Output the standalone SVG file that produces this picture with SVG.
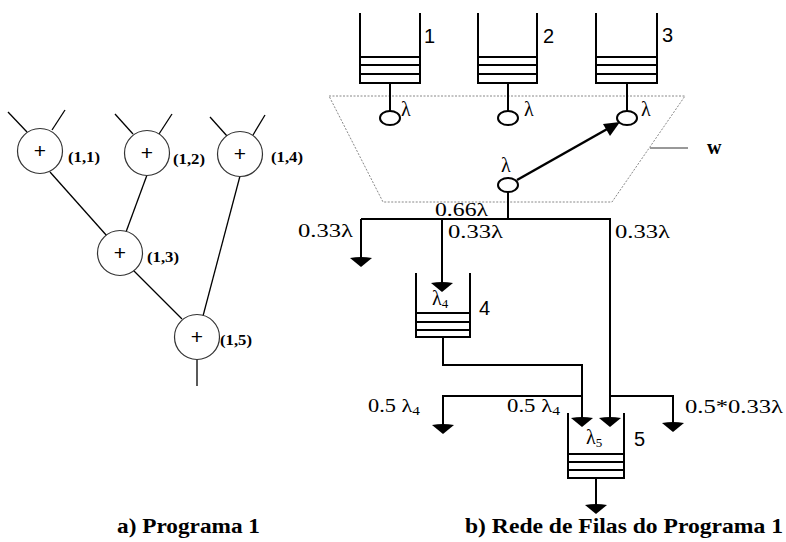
<svg xmlns="http://www.w3.org/2000/svg" width="786" height="542" viewBox="0 0 786 542">
<style>
.ln{stroke:#000;stroke-width:1.3;fill:none}
.th{stroke:#000;stroke-width:2;fill:none}
.nd{stroke:#333;stroke-width:1.2;fill:#fff}
.ah{fill:#000;stroke:none}
.plus{font-family:"Liberation Sans",sans-serif;font-size:21px;text-anchor:middle}
.lb{font-family:"Liberation Serif",serif;font-weight:bold;font-size:14px}
.val{font-family:"Liberation Serif","DejaVu Serif",serif;font-size:19px}
.num{font-family:"Liberation Sans",sans-serif;font-size:20px}
.lam{font-family:"Liberation Serif","DejaVu Serif",serif;font-size:20px}
.cap{font-family:"Liberation Serif",serif;font-weight:bold;font-size:20px}
.sub{font-size:13px}
</style>
<rect width="786" height="542" fill="#fff"/>

<!-- Left tree: connectors -->
<g id="tree-edges" class="ln">
<line x1="8" y1="112" x2="27" y2="132"/>
<line x1="65" y1="110" x2="52" y2="130"/>
<line x1="115" y1="114" x2="133" y2="134"/>
<line x1="172" y1="114" x2="159" y2="134"/>
<line x1="210" y1="117" x2="227" y2="136"/>
<line x1="265" y1="115" x2="253" y2="135"/>
<line x1="50" y1="172" x2="107" y2="236"/>
<line x1="147" y1="175" x2="126" y2="232"/>
<line x1="240" y1="176" x2="203" y2="316"/>
<line x1="133" y1="270" x2="182" y2="319"/>
<line x1="197" y1="359" x2="197" y2="386"/>
</g>
<g id="n11"><circle class="nd" cx="40" cy="151" r="22.5"/><text class="plus" x="40" y="158">+</text><text class="lb" x="68" y="162" textLength="32" lengthAdjust="spacingAndGlyphs">(1,1)</text></g>
<g id="n12"><circle class="nd" cx="147" cy="153" r="22.5"/><text class="plus" x="147" y="160">+</text><text class="lb" x="173" y="164" textLength="32" lengthAdjust="spacingAndGlyphs">(1,2)</text></g>
<g id="n14"><circle class="nd" cx="240" cy="154" r="22.5"/><text class="plus" x="240" y="161">+</text><text class="lb" x="271" y="162" textLength="32" lengthAdjust="spacingAndGlyphs">(1,4)</text></g>
<g id="n13"><circle class="nd" cx="120" cy="253" r="22.5"/><text class="plus" x="120" y="260">+</text><text class="lb" x="147" y="262" textLength="32" lengthAdjust="spacingAndGlyphs">(1,3)</text></g>
<g id="n15"><circle class="nd" cx="197" cy="337" r="22.5"/><text class="plus" x="197" y="344">+</text><text class="lb" x="220" y="345" textLength="32" lengthAdjust="spacingAndGlyphs">(1,5)</text></g>
<text class="cap" x="117" y="533" textLength="143" lengthAdjust="spacingAndGlyphs">a) Programa 1</text>

<!-- Right: W region -->
<g id="w-region">
<polygon points="329,96 685,96 612,202 383,202" fill="none" stroke="#888" stroke-width="1" stroke-dasharray="2,1.5"/>
<line x1="650" y1="148" x2="688" y2="148" stroke="#333" stroke-width="1"/>
<text class="cap" x="707" y="154">w</text>
</g>

<!-- Queues -->
<g id="q1">
<path class="th" d="M360,13 V83 H420 V13 M360,57 H420 M360,65 H420 M360,74 H420"/>
<line class="th" x1="390" y1="83" x2="390" y2="111"/>
<ellipse class="th" cx="390" cy="118" rx="10" ry="7"/>
<text class="lam" x="401" y="116">λ</text>
<text class="num" x="424" y="43">1</text>
</g>
<g id="q2">
<path class="th" d="M478,13 V83 H537 V13 M478,57 H537 M478,65 H537 M478,74 H537"/>
<line class="th" x1="508" y1="83" x2="508" y2="111"/>
<ellipse class="th" cx="508" cy="118" rx="10" ry="7"/>
<text class="lam" x="524" y="116">λ</text>
<text class="num" x="543" y="43">2</text>
</g>
<g id="q3">
<path class="th" d="M596,13 V83 H657 V13 M596,57 H657 M596,65 H657 M596,74 H657"/>
<line class="th" x1="627" y1="83" x2="627" y2="111"/>
<ellipse class="th" cx="627" cy="118" rx="10" ry="7"/>
<text class="lam" x="641" y="116">λ</text>
<text class="num" x="662" y="42">3</text>
</g>
<g id="router">
<ellipse class="th" cx="508" cy="185" rx="10" ry="7"/>
<text class="lam" x="501" y="172">λ</text>
</g>
<g id="q4">
<path class="th" d="M416,273 V337 H470 V273 M416,313 H470 M416,322 H470 M416,330 H470"/>
<text class="lam" x="432" y="305">λ<tspan class="sub" dy="3">4</tspan></text>
<text class="num" x="479" y="315">4</text>
</g>
<g id="q5">
<path class="th" d="M568,413 V478 H624 V413 M568,454 H624 M568,462 H624 M568,470 H624"/>
<text class="lam" x="586" y="444">λ<tspan class="sub" dy="3">5</tspan></text>
<text class="num" x="634" y="446">5</text>
</g>

<!-- Connectors -->
<defs>
<path id="ah" d="M-11,0 Q0,-2 11,0 L0,9 Z"/>
</defs>
<g id="connectors">
<line x1="517" y1="180" x2="609" y2="128" stroke="#000" stroke-width="2.5"/>
<polygon class="ah" points="620,122 603,124 610,136"/>
<path class="th" d="M508,192 V219"/>
<path class="th" d="M361,219 H610 V419"/>
<path class="th" d="M361,219 V259"/>
<path class="th" d="M442,219 V284"/>
<path class="th" d="M443,337 V365 H582 V419"/>
<path class="th" d="M443,426 V396 H582"/>
<path class="th" d="M610,396 H673 V424"/>
<path class="th" d="M596,478 V506"/>
<use href="#ah" class="ah" x="361" y="258"/>
<use href="#ah" class="ah" x="442" y="283"/>
<use href="#ah" class="ah" x="582" y="418"/>
<use href="#ah" class="ah" x="610" y="418"/>
<use href="#ah" class="ah" x="443" y="425"/>
<use href="#ah" class="ah" x="673" y="423"/>
<use href="#ah" class="ah" x="596" y="505"/>
</g>

<!-- Flow labels -->
<g id="labels">
<text class="val" x="435" y="216" textLength="53" lengthAdjust="spacingAndGlyphs">0.66λ</text>
<text class="val" x="298" y="237" textLength="55" lengthAdjust="spacingAndGlyphs">0.33λ</text>
<text class="val" x="448" y="238" textLength="55" lengthAdjust="spacingAndGlyphs">0.33λ</text>
<text class="val" x="615" y="238" textLength="55" lengthAdjust="spacingAndGlyphs">0.33λ</text>
<text class="val" x="368" y="412" textLength="52" lengthAdjust="spacingAndGlyphs">0.5 λ<tspan class="sub" dy="3">4</tspan></text>
<text class="val" x="507" y="412" textLength="53" lengthAdjust="spacingAndGlyphs">0.5 λ<tspan class="sub" dy="3">4</tspan></text>
<text class="val" x="685" y="413" textLength="98" lengthAdjust="spacingAndGlyphs">0.5*0.33λ</text>
</g>
<text class="cap" x="465" y="533" textLength="318" lengthAdjust="spacingAndGlyphs">b) Rede de Filas do Programa 1</text>
</svg>
